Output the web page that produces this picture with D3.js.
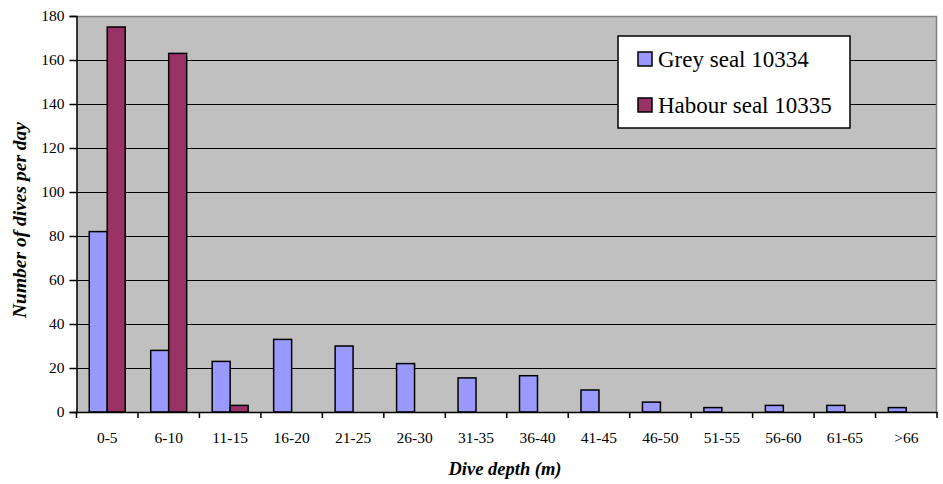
<!DOCTYPE html>
<html><head><meta charset="utf-8">
<script src="https://cdn.jsdelivr.net/npm/d3@7"></script>
<style>body{margin:0;background:#fff}svg{display:block}</style>
</head><body>
<script>
const categories = ["0-5","6-10","11-15","16-20","21-25","26-30","31-35","36-40","41-45","46-50","51-55","56-60","61-65",">66"];
const greySeal = [82,28,23,33,30,22,15.5,16.5,10,4.5,2,3,3,2];
const habourSeal = [175,163,3,0,0,0,0,0,0,0,0,0,0,0];
const seriesNames = ["Grey seal 10334","Habour seal 10335"];
const seriesColors = ["#9999ff","#993366"];
const yTicks = [0,20,40,60,80,100,120,140,160,180];

const W=943,H=484;
const m={l:76.5,r:6,t:16,b:72};
const svg=d3.select("body").append("svg").attr("width",W).attr("height",H);
const x=d3.scaleBand().domain(categories).range([m.l,W-m.r]).paddingInner(0).paddingOuter(0);
const y=d3.scaleLinear().domain([0,180]).range([H-m.b,m.t]);
const x1=d3.scaleBand().domain([0,1]).range([0,x.bandwidth()]).paddingInner(0).paddingOuter(0.71);

const font="Liberation Serif, Times New Roman, serif";
svg.append("rect").attr("x",m.l).attr("y",m.t).attr("width",W-m.r-m.l).attr("height",H-m.b-m.t).attr("fill","#c0c0c0");
// gridlines
svg.append("g").selectAll("line").data(yTicks.filter(d=>d>0&&d<180)).join("line")
 .attr("x1",m.l).attr("x2",W-m.r).attr("y1",d=>Math.round(y(d))+0.5).attr("y2",d=>Math.round(y(d))+0.5)
 .attr("stroke","#000").attr("stroke-width",1);
// top/right border
svg.append("path").attr("d",`M${m.l},${m.t+0.5}H${W-m.r-0.5}V${H-m.b}`).attr("fill","none").attr("stroke","#808080").attr("stroke-width",1.5);

const series=[greySeal,habourSeal];
series.forEach((vals,si)=>{
  svg.append("g").selectAll("rect").data(vals).join("rect")
   .attr("x",(d,i)=>x(categories[i])+x1(si))
   .attr("y",d=>y(d)).attr("width",x1.bandwidth()).attr("height",d=>y(0)-y(d))
   .attr("fill",seriesColors[si]).attr("stroke","#000").attr("stroke-width",d=>d>0?1.5:0);
});

// axes
const ya=svg.append("g").attr("transform",`translate(${m.l},0)`)
 .call(d3.axisLeft(y).tickValues(yTicks).tickSize(7).tickPadding(5));
ya.attr("font-family",font);
ya.select(".domain").attr("stroke","#000").attr("stroke-width",1.5);
ya.selectAll("line").attr("stroke-width",1.5);
ya.selectAll("text").style("font-family",font).attr("font-size",15.5).attr("fill","#000");

const xa=svg.append("g").attr("transform",`translate(0,${y(0)})`)
 .call(d3.axisBottom(x).tickSize(0).tickPadding(20));
xa.attr("font-family",font);
xa.select(".domain").attr("stroke","#000").attr("stroke-width",1.5);
xa.selectAll("text").style("font-family",font).attr("font-size",15.5).attr("fill","#000");
// category boundary ticks
xa.append("g").selectAll("line").data(categories.concat(["__end"])).join("line")
 .attr("x1",(d,i)=>i<categories.length?x(d):x.range()[1]).attr("x2",(d,i)=>i<categories.length?x(d):x.range()[1])
 .attr("y1",0).attr("y2",6).attr("stroke","#000").attr("stroke-width",1.5);

// axis titles
svg.append("text").attr("x",505).attr("y",475).attr("text-anchor","middle")
 .style("font-family",font).attr("font-size",18.5).attr("font-weight","bold").attr("font-style","italic").text("Dive depth (m)");
svg.append("text").attr("transform",`translate(26,220) rotate(-90)`).attr("text-anchor","middle")
 .style("font-family",font).attr("font-size",19.5).attr("font-weight","bold").attr("font-style","italic").text("Number of dives per day");

// legend
const lg=svg.append("g");
lg.append("rect").attr("x",618).attr("y",36).attr("width",232).attr("height",92).attr("fill","#fff").attr("stroke","#000").attr("stroke-width",1.5);
seriesNames.forEach((n,i)=>{
  const cy=[59,105][i];
  lg.append("rect").attr("x",638).attr("y",cy-7).attr("width",14).attr("height",14).attr("fill",seriesColors[i]).attr("stroke","#000").attr("stroke-width",1.5);
  lg.append("text").attr("x",658).attr("y",cy+8).style("font-family",font).attr("font-size",23).attr("fill","#000").text(n);
});
</script>
</body></html>
